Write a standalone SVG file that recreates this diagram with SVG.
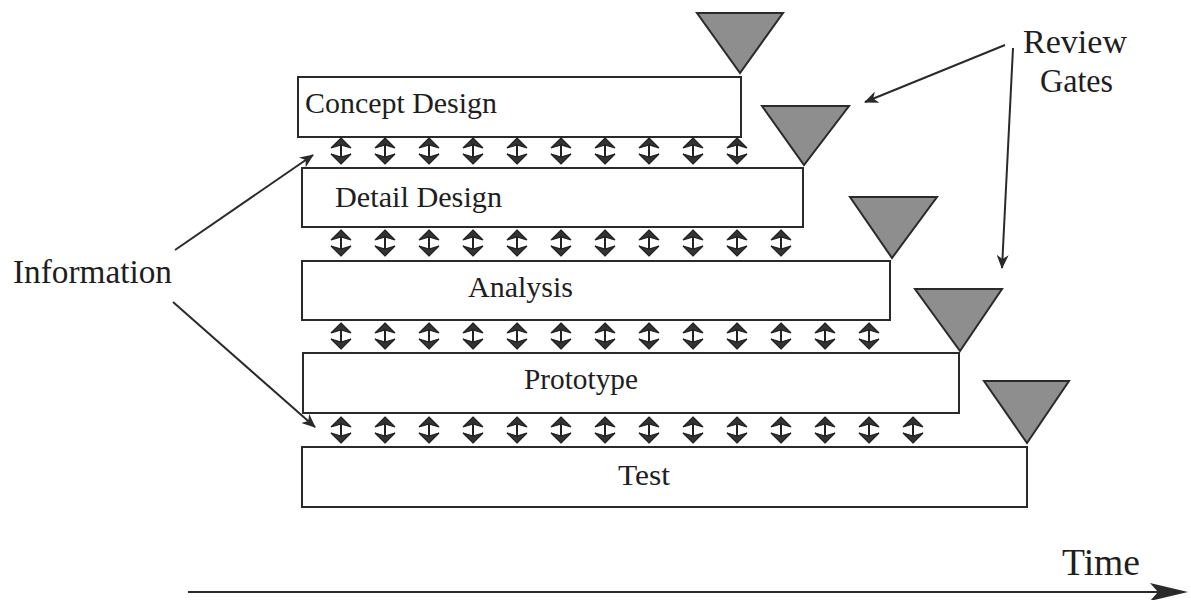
<svg xmlns="http://www.w3.org/2000/svg" width="1191" height="600" viewBox="0 0 1191 600">
<style>
.box{fill:#fff;stroke:#2a2a2a;stroke-width:2}
.gate{fill:#8e8e8e;stroke:#2a2a2a;stroke-width:2;stroke-linejoin:miter}
.lbl{font-family:"Liberation Serif","Times New Roman",serif;font-size:30px;fill:#1e1e1e}
.side{font-family:"Liberation Serif","Times New Roman",serif;font-size:34px;fill:#1e1e1e}
.conn{stroke:#2a2a2a;stroke-width:2;fill:none}
.dh{fill:#333;stroke:#222;stroke-width:1.2;stroke-linejoin:miter}
.ds{stroke:#222;stroke-width:2}
</style>
<defs>
<marker id="ah" viewBox="0 0 14 12" refX="13" refY="6" markerWidth="14" markerHeight="12" markerUnits="userSpaceOnUse" orient="auto">
<path d="M0,0 L14,6 L0,12 L4,6 Z" fill="#2a2a2a"/>
</marker>
<g id="dbl">
<line class="ds" x1="0" y1="-7" x2="0" y2="7"/>
<path class="dh" d="M0,-13 L10,-3 L0,-6 L-10,-3 Z"/>
<path class="dh" d="M0,13 L10,3 L0,6 L-10,3 Z"/>
</g>
</defs>

<g id="concept-design">
<rect class="box" x="298" y="77" width="443" height="60"/>
<text class="lbl" x="305" y="113" textLength="192" lengthAdjust="spacingAndGlyphs">Concept Design</text>
</g>
<g id="detail-design">
<rect class="box" x="302" y="168" width="501" height="59"/>
<text class="lbl" x="335" y="207" textLength="167" lengthAdjust="spacingAndGlyphs">Detail Design</text>
</g>
<g id="analysis">
<rect class="box" x="302" y="261" width="588" height="59"/>
<text class="lbl" x="468" y="297" textLength="105" lengthAdjust="spacingAndGlyphs">Analysis</text>
</g>
<g id="prototype">
<rect class="box" x="303" y="353" width="656" height="60"/>
<text class="lbl" x="524" y="389" textLength="114" lengthAdjust="spacingAndGlyphs">Prototype</text>
</g>
<g id="test">
<rect class="box" x="302" y="447" width="725" height="60"/>
<text class="lbl" x="618" y="485" textLength="52" lengthAdjust="spacingAndGlyphs">Test</text>
</g>

<g id="gate-1"><polygon class="gate" points="697,13 783,13 740,73"/></g>
<g id="gate-2"><polygon class="gate" points="762,106 849,106 804,165"/></g>
<g id="gate-3"><polygon class="gate" points="850,197 937,197 892,258"/></g>
<g id="gate-4"><polygon class="gate" points="915,289 1002,289 960,351"/></g>
<g id="gate-5"><polygon class="gate" points="984,381 1069,381 1027,443"/></g>

<g id="information-label"><text class="side" x="13" y="283" textLength="159" lengthAdjust="spacingAndGlyphs">Information</text></g>
<g id="review-gates-label">
<text class="side" x="1023" y="53" textLength="104" lengthAdjust="spacingAndGlyphs">Review</text>
<text class="side" x="1040" y="92" textLength="73" lengthAdjust="spacingAndGlyphs">Gates</text>
</g>
<g id="time-label"><text class="side" style="font-size:37px" x="1062" y="575" textLength="78" lengthAdjust="spacingAndGlyphs">Time</text></g>

<g id="connectors">
<line class="conn" x1="175" y1="250" x2="313" y2="155" marker-end="url(#ah)"/>
<line class="conn" x1="173" y1="302" x2="315" y2="427" marker-end="url(#ah)"/>
<line class="conn" x1="1005" y1="45" x2="865" y2="102" marker-end="url(#ah)"/>
<line class="conn" x1="1013" y1="48" x2="1002" y2="268" marker-end="url(#ah)"/>
<line class="conn" x1="188" y1="592" x2="1160" y2="592"/>
<path d="M1150,583 L1188,592 L1150,601 L1158,592 Z" fill="#2a2a2a"/>

<g id="info-row-1">
<use href="#dbl" x="341" y="151"/><use href="#dbl" x="385" y="151"/><use href="#dbl" x="429" y="151"/><use href="#dbl" x="473" y="151"/><use href="#dbl" x="517" y="151"/><use href="#dbl" x="561" y="151"/><use href="#dbl" x="605" y="151"/><use href="#dbl" x="649" y="151"/><use href="#dbl" x="693" y="151"/><use href="#dbl" x="737" y="151"/>
</g>
<g id="info-row-2">
<use href="#dbl" x="341" y="243"/><use href="#dbl" x="385" y="243"/><use href="#dbl" x="429" y="243"/><use href="#dbl" x="473" y="243"/><use href="#dbl" x="517" y="243"/><use href="#dbl" x="561" y="243"/><use href="#dbl" x="605" y="243"/><use href="#dbl" x="649" y="243"/><use href="#dbl" x="693" y="243"/><use href="#dbl" x="737" y="243"/><use href="#dbl" x="781" y="243"/>
</g>
<g id="info-row-3">
<use href="#dbl" x="341" y="336"/><use href="#dbl" x="385" y="336"/><use href="#dbl" x="429" y="336"/><use href="#dbl" x="473" y="336"/><use href="#dbl" x="517" y="336"/><use href="#dbl" x="561" y="336"/><use href="#dbl" x="605" y="336"/><use href="#dbl" x="649" y="336"/><use href="#dbl" x="693" y="336"/><use href="#dbl" x="737" y="336"/><use href="#dbl" x="781" y="336"/><use href="#dbl" x="825" y="336"/><use href="#dbl" x="869" y="336"/>
</g>
<g id="info-row-4">
<use href="#dbl" x="341" y="430"/><use href="#dbl" x="385" y="430"/><use href="#dbl" x="429" y="430"/><use href="#dbl" x="473" y="430"/><use href="#dbl" x="517" y="430"/><use href="#dbl" x="561" y="430"/><use href="#dbl" x="605" y="430"/><use href="#dbl" x="649" y="430"/><use href="#dbl" x="693" y="430"/><use href="#dbl" x="737" y="430"/><use href="#dbl" x="781" y="430"/><use href="#dbl" x="825" y="430"/><use href="#dbl" x="869" y="430"/><use href="#dbl" x="913" y="430"/>
</g>
</g>
</svg>
